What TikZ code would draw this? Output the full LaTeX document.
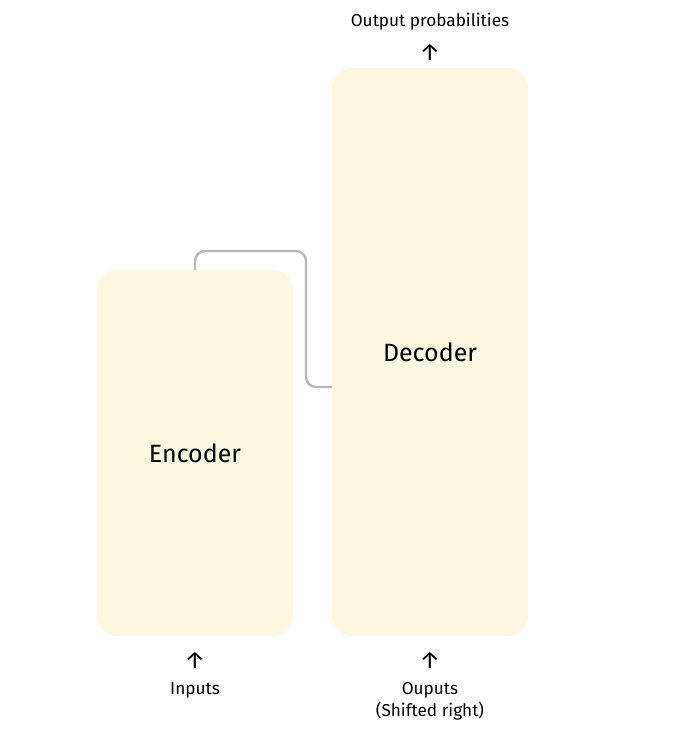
\documentclass[tikz,border=0pt]{standalone}
\usepackage{fontspec}
\setmainfont{Fira Sans}
\definecolor{boxfill}{HTML}{FEF7E2}
\definecolor{conncol}{HTML}{B8B8B8}
\begin{document}
\begin{tikzpicture}[x=1pt,y=-1pt,
  block/.style={fill=boxfill, draw=none, rounded corners=20pt, minimum width=196pt, inner sep=0pt, font=\fontsize{25}{30}\selectfont},
  conn/.style={draw=conncol, line width=2.4pt, rounded corners=10pt},
  lbl/.style={font=\fontsize{17.2}{22}\selectfont, inner sep=0pt, align=center},
  uparrow/.style={font=\fontsize{24}{24}\selectfont, inner sep=0pt}]
\useasboundingbox (0,0) rectangle (694,744);
\node[block, minimum height=366pt] (enc) at (195,453) {Encoder};
\node[block, minimum height=568pt] (dec) at (430,352) {Decoder};
\draw[conn] (enc.north) -- (enc.north |- 0,251) -- (306,251) -- (306,387) -- (dec.west |- 0,387);
\node[lbl] (outp) at (430,22) {Output probabilities};
\node[uparrow] (a1) at (430,52) {↑};
\node[uparrow] (a2) at (195,660) {↑};
\node[uparrow] (a3) at (430,660) {↑};
\node[lbl] (inp) at (195,690) {Inputs};
\node[lbl] (outs) at (430,701) {Ouputs\\(Shifted right)};
\end{tikzpicture}
\end{document}
